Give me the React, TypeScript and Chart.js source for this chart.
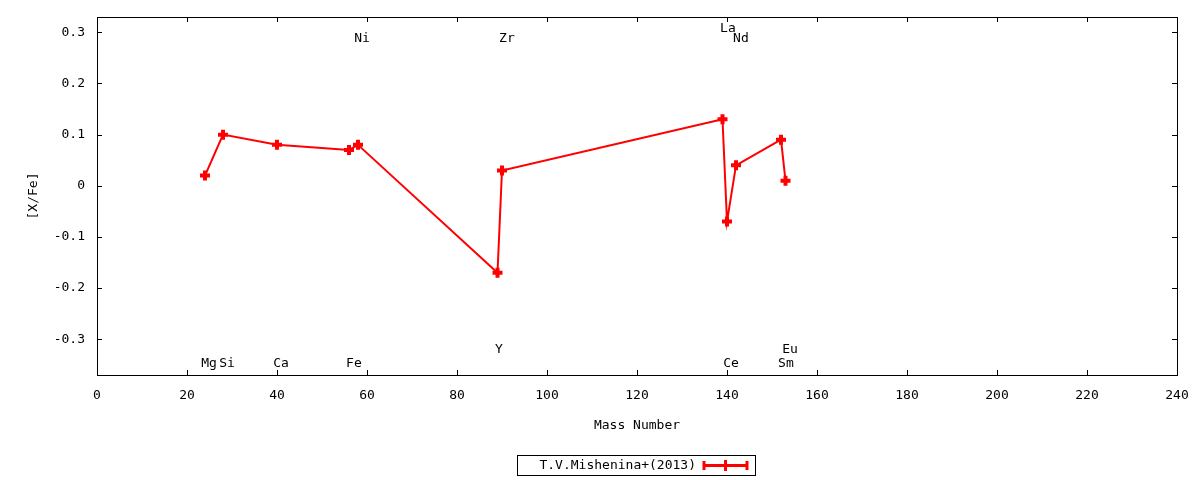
import { useEffect, useRef } from 'react';
import { Chart, registerables } from 'chart.js';

Chart.register(...registerables);

// measured abundances
const massNumbers = [24, 28, 40, 56, 58, 89, 90, 139, 140, 142, 152, 153];
const xFe = [0.02, 0.1, 0.08, 0.07, 0.08, -0.17, 0.03, 0.13, -0.07, 0.04, 0.09, 0.01];

// element name labels (position in data units)
const elementNames = ['Mg', 'Si', 'Ca', 'Fe', 'Ni', 'Y', 'Zr', 'La', 'Nd', 'Ce', 'Sm', 'Eu'];
const elementX = [24.9, 28.9, 40.9, 57.1, 58.9, 89.3, 91.1, 140.2, 143.1, 140.9, 153.1, 154];
const elementY = [-0.347, -0.347, -0.347, -0.347, 0.288, -0.32, 0.288, 0.308, 0.288, -0.347, -0.347, -0.32];

const xTicks = [0, 20, 40, 60, 80, 100, 120, 140, 160, 180, 200, 220, 240];
const yTicks = [-0.3, -0.2, -0.1, 0, 0.1, 0.2, 0.3];

const FONT = 'DejaVu Sans Mono';
const RED = '#ff0000';

const gnuplotFrame = {
    id: 'gnuplotFrame',
    afterDatasetsDraw(chart: any) {
        const { ctx, chartArea: a, scales } = chart;
        const x = scales.x;
        const y = scales.y;
        ctx.save();
        ctx.strokeStyle = '#000';
        ctx.lineWidth = 1;
        ctx.strokeRect(Math.round(a.left) + 0.5, Math.round(a.top) + 0.5, Math.round(a.right - a.left), Math.round(a.bottom - a.top));
        ctx.beginPath();
        const tl = 5;
        xTicks.forEach((v) => {
            const px = Math.round(x.getPixelForValue(v)) + 0.5;
            ctx.moveTo(px, a.bottom);
            ctx.lineTo(px, a.bottom - tl);
            ctx.moveTo(px, a.top);
            ctx.lineTo(px, a.top + tl);
        });
        yTicks.forEach((v) => {
            const py = Math.round(y.getPixelForValue(v)) + 0.5;
            ctx.moveTo(a.left, py);
            ctx.lineTo(a.left + tl, py);
            ctx.moveTo(a.right, py);
            ctx.lineTo(a.right - tl, py);
        });
        ctx.stroke();

        // element labels
        ctx.fillStyle = '#000';
        ctx.font = `13px "${FONT}"`;
        ctx.textAlign = 'center';
        ctx.textBaseline = 'middle';
        elementNames.forEach((name, i) => {
            ctx.fillText(name, x.getPixelForValue(elementX[i]), y.getPixelForValue(elementY[i]));
        });

        // legend box
        const ds = chart.data.datasets[0];
        ctx.strokeRect(517.5, 455.5, 238, 20);
        ctx.textAlign = 'right';
        ctx.fillText(ds.label, 696, 465.5);
        ctx.strokeStyle = RED;
        ctx.lineWidth = 3;
        ctx.beginPath();
        ctx.moveTo(704, 465.5);
        ctx.lineTo(747, 465.5);
        ctx.moveTo(704, 461);
        ctx.lineTo(704, 470);
        ctx.moveTo(747, 461);
        ctx.lineTo(747, 470);
        ctx.moveTo(725.5, 460);
        ctx.lineTo(725.5, 471);
        ctx.stroke();
        ctx.restore();
    },
};

const App = () => {
    const chartRef = useRef<HTMLCanvasElement | null>(null);

    useEffect(() => {
        const ctx = chartRef.current?.getContext('2d');
        if (!ctx) return;
        const font = { family: FONT, size: 13 };
        const myChart = new Chart(ctx, {
            type: 'scatter',
            data: {
                datasets: [
                    {
                        label: 'T.V.Mishenina+(2013)',
                        data: massNumbers.map((m, i) => ({ x: m, y: xFe[i] })),
                        showLine: true,
                        borderColor: RED,
                        backgroundColor: RED,
                        borderWidth: 2,
                        pointStyle: 'cross',
                        pointRadius: 5,
                        pointBorderWidth: 4,
                        pointBorderColor: RED,
                    },
                ],
            },
            options: {
                responsive: false,
                animation: false,
                devicePixelRatio: 1,
                layout: { padding: { top: 17, right: 23, left: 0, bottom: 0 } },
                plugins: {
                    legend: { display: false },
                    tooltip: { enabled: false },
                },
                scales: {
                    x: {
                        type: 'linear',
                        min: 0,
                        max: 240,
                        grid: { display: false, drawTicks: false },
                        border: { display: false },
                        afterBuildTicks: (s: any) => {
                            s.ticks = xTicks.map((v) => ({ value: v }));
                        },
                        afterFit: (s: any) => {
                            s.height = 105;
                            s.paddingLeft = 0;
                            s.paddingRight = 0;
                        },
                        ticks: { color: '#000', font, padding: 13, maxRotation: 0, autoSkip: false },
                        title: { display: true, text: 'Mass Number', color: '#000', font, padding: { top: 0, bottom: 47 } },
                    },
                    y: {
                        type: 'linear',
                        min: -0.37,
                        max: 0.33,
                        grid: { display: false, drawTicks: false },
                        border: { display: false },
                        afterBuildTicks: (s: any) => {
                            s.ticks = yTicks.map((v) => ({ value: v }));
                        },
                        afterFit: (s: any) => {
                            s.width = 97;
                            s.paddingTop = 0;
                            s.paddingBottom = 0;
                        },
                        ticks: {
                            color: '#000',
                            font,
                            padding: 12,
                            autoSkip: false,
                            callback: (v: any) => (v === 0 ? '0' : Number(v).toFixed(1)),
                        },
                        title: { display: true, text: '[X/Fe]', color: '#000', font, padding: { top: 26, bottom: 0 } },
                    },
                },
            },
            plugins: [gnuplotFrame],
        } as any);

        return () => {
            myChart.destroy();
        };
    }, []);

    return (
        <div style={{ position: 'fixed', left: 0, top: 0, width: 1200, height: 480, background: '#fff' }}>
            <canvas ref={chartRef} width={1200} height={480} />
        </div>
    );
};

export default App;
